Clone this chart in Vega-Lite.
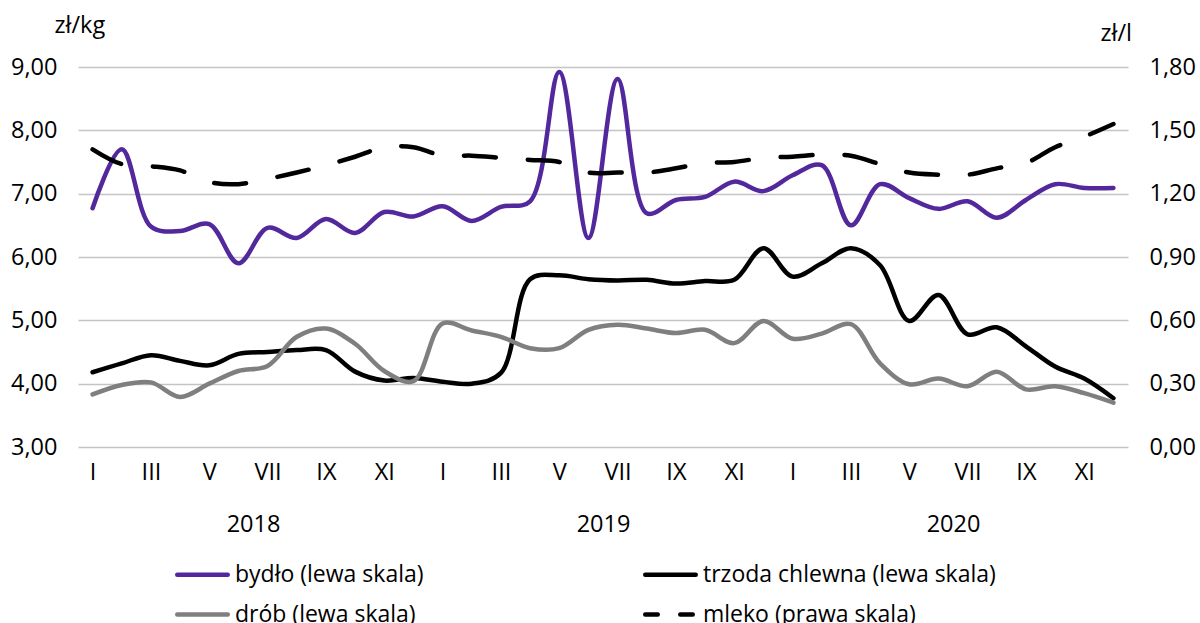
{
  "$schema": "https://vega.github.io/schema/vega-lite/v6.json",
  "width": 1050,
  "height": 380,
  "autosize": "none",
  "padding": {"left": 78, "top": 67, "right": 72, "bottom": 176},
  "background": "white",
  "config": {
    "font": "Open Sans",
    "view": {"stroke": null},
    "axis": {"labelFontSize": 23.5, "labelColor": "#000", "titleColor": "#000", "titleFontSize": 23.5, "titleFontWeight": "normal", "ticks": false, "domain": false},
    "legend": {"labelFontSize": 23, "labelColor": "#000"}
  },
  "datasets": {
    "meat": [
      {"ym": "2018-01", "series": "bydło (lewa skala)", "value": 6.77},
      {"ym": "2018-02", "series": "bydło (lewa skala)", "value": 7.70},
      {"ym": "2018-03", "series": "bydło (lewa skala)", "value": 6.48},
      {"ym": "2018-04", "series": "bydło (lewa skala)", "value": 6.41},
      {"ym": "2018-05", "series": "bydło (lewa skala)", "value": 6.52},
      {"ym": "2018-06", "series": "bydło (lewa skala)", "value": 5.90},
      {"ym": "2018-07", "series": "bydło (lewa skala)", "value": 6.46},
      {"ym": "2018-08", "series": "bydło (lewa skala)", "value": 6.30},
      {"ym": "2018-09", "series": "bydło (lewa skala)", "value": 6.60},
      {"ym": "2018-10", "series": "bydło (lewa skala)", "value": 6.38},
      {"ym": "2018-11", "series": "bydło (lewa skala)", "value": 6.71},
      {"ym": "2018-12", "series": "bydło (lewa skala)", "value": 6.64},
      {"ym": "2019-01", "series": "bydło (lewa skala)", "value": 6.80},
      {"ym": "2019-02", "series": "bydło (lewa skala)", "value": 6.57},
      {"ym": "2019-03", "series": "bydło (lewa skala)", "value": 6.79},
      {"ym": "2019-04", "series": "bydło (lewa skala)", "value": 6.88},
      {"ym": "2019-05", "series": "bydło (lewa skala)", "value": 8.92},
      {"ym": "2019-06", "series": "bydło (lewa skala)", "value": 6.30},
      {"ym": "2019-07", "series": "bydło (lewa skala)", "value": 8.81},
      {"ym": "2019-08", "series": "bydło (lewa skala)", "value": 6.69},
      {"ym": "2019-09", "series": "bydło (lewa skala)", "value": 6.90},
      {"ym": "2019-10", "series": "bydło (lewa skala)", "value": 6.95},
      {"ym": "2019-11", "series": "bydło (lewa skala)", "value": 7.19},
      {"ym": "2019-12", "series": "bydło (lewa skala)", "value": 7.04},
      {"ym": "2020-01", "series": "bydło (lewa skala)", "value": 7.29},
      {"ym": "2020-02", "series": "bydło (lewa skala)", "value": 7.45},
      {"ym": "2020-03", "series": "bydło (lewa skala)", "value": 6.50},
      {"ym": "2020-04", "series": "bydło (lewa skala)", "value": 7.15},
      {"ym": "2020-05", "series": "bydło (lewa skala)", "value": 6.93},
      {"ym": "2020-06", "series": "bydło (lewa skala)", "value": 6.76},
      {"ym": "2020-07", "series": "bydło (lewa skala)", "value": 6.88},
      {"ym": "2020-08", "series": "bydło (lewa skala)", "value": 6.62},
      {"ym": "2020-09", "series": "bydło (lewa skala)", "value": 6.90},
      {"ym": "2020-10", "series": "bydło (lewa skala)", "value": 7.15},
      {"ym": "2020-11", "series": "bydło (lewa skala)", "value": 7.09},
      {"ym": "2020-12", "series": "bydło (lewa skala)", "value": 7.09},
      {"ym": "2018-01", "series": "trzoda chlewna (lewa skala)", "value": 4.18},
      {"ym": "2018-02", "series": "trzoda chlewna (lewa skala)", "value": 4.32},
      {"ym": "2018-03", "series": "trzoda chlewna (lewa skala)", "value": 4.45},
      {"ym": "2018-04", "series": "trzoda chlewna (lewa skala)", "value": 4.36},
      {"ym": "2018-05", "series": "trzoda chlewna (lewa skala)", "value": 4.29},
      {"ym": "2018-06", "series": "trzoda chlewna (lewa skala)", "value": 4.47},
      {"ym": "2018-07", "series": "trzoda chlewna (lewa skala)", "value": 4.50},
      {"ym": "2018-08", "series": "trzoda chlewna (lewa skala)", "value": 4.53},
      {"ym": "2018-09", "series": "trzoda chlewna (lewa skala)", "value": 4.53},
      {"ym": "2018-10", "series": "trzoda chlewna (lewa skala)", "value": 4.19},
      {"ym": "2018-11", "series": "trzoda chlewna (lewa skala)", "value": 4.05},
      {"ym": "2018-12", "series": "trzoda chlewna (lewa skala)", "value": 4.09},
      {"ym": "2019-01", "series": "trzoda chlewna (lewa skala)", "value": 4.03},
      {"ym": "2019-02", "series": "trzoda chlewna (lewa skala)", "value": 4.00},
      {"ym": "2019-03", "series": "trzoda chlewna (lewa skala)", "value": 4.17},
      {"ym": "2019-04", "series": "trzoda chlewna (lewa skala)", "value": 5.65},
      {"ym": "2019-05", "series": "trzoda chlewna (lewa skala)", "value": 5.71},
      {"ym": "2019-06", "series": "trzoda chlewna (lewa skala)", "value": 5.65},
      {"ym": "2019-07", "series": "trzoda chlewna (lewa skala)", "value": 5.63},
      {"ym": "2019-08", "series": "trzoda chlewna (lewa skala)", "value": 5.64},
      {"ym": "2019-09", "series": "trzoda chlewna (lewa skala)", "value": 5.58},
      {"ym": "2019-10", "series": "trzoda chlewna (lewa skala)", "value": 5.62},
      {"ym": "2019-11", "series": "trzoda chlewna (lewa skala)", "value": 5.64},
      {"ym": "2019-12", "series": "trzoda chlewna (lewa skala)", "value": 6.14},
      {"ym": "2020-01", "series": "trzoda chlewna (lewa skala)", "value": 5.69},
      {"ym": "2020-02", "series": "trzoda chlewna (lewa skala)", "value": 5.90},
      {"ym": "2020-03", "series": "trzoda chlewna (lewa skala)", "value": 6.14},
      {"ym": "2020-04", "series": "trzoda chlewna (lewa skala)", "value": 5.87},
      {"ym": "2020-05", "series": "trzoda chlewna (lewa skala)", "value": 4.99},
      {"ym": "2020-06", "series": "trzoda chlewna (lewa skala)", "value": 5.40},
      {"ym": "2020-07", "series": "trzoda chlewna (lewa skala)", "value": 4.78},
      {"ym": "2020-08", "series": "trzoda chlewna (lewa skala)", "value": 4.89},
      {"ym": "2020-09", "series": "trzoda chlewna (lewa skala)", "value": 4.59},
      {"ym": "2020-10", "series": "trzoda chlewna (lewa skala)", "value": 4.27},
      {"ym": "2020-11", "series": "trzoda chlewna (lewa skala)", "value": 4.08},
      {"ym": "2020-12", "series": "trzoda chlewna (lewa skala)", "value": 3.77},
      {"ym": "2018-01", "series": "drób (lewa skala)", "value": 3.83},
      {"ym": "2018-02", "series": "drób (lewa skala)", "value": 3.98},
      {"ym": "2018-03", "series": "drób (lewa skala)", "value": 4.02},
      {"ym": "2018-04", "series": "drób (lewa skala)", "value": 3.79},
      {"ym": "2018-05", "series": "drób (lewa skala)", "value": 4.00},
      {"ym": "2018-06", "series": "drób (lewa skala)", "value": 4.20},
      {"ym": "2018-07", "series": "drób (lewa skala)", "value": 4.28},
      {"ym": "2018-08", "series": "drób (lewa skala)", "value": 4.74},
      {"ym": "2018-09", "series": "drób (lewa skala)", "value": 4.87},
      {"ym": "2018-10", "series": "drób (lewa skala)", "value": 4.63},
      {"ym": "2018-11", "series": "drób (lewa skala)", "value": 4.20},
      {"ym": "2018-12", "series": "drób (lewa skala)", "value": 4.04},
      {"ym": "2019-01", "series": "drób (lewa skala)", "value": 4.95},
      {"ym": "2019-02", "series": "drób (lewa skala)", "value": 4.84},
      {"ym": "2019-03", "series": "drób (lewa skala)", "value": 4.74},
      {"ym": "2019-04", "series": "drób (lewa skala)", "value": 4.56},
      {"ym": "2019-05", "series": "drób (lewa skala)", "value": 4.56},
      {"ym": "2019-06", "series": "drób (lewa skala)", "value": 4.85},
      {"ym": "2019-07", "series": "drób (lewa skala)", "value": 4.93},
      {"ym": "2019-08", "series": "drób (lewa skala)", "value": 4.87},
      {"ym": "2019-09", "series": "drób (lewa skala)", "value": 4.80},
      {"ym": "2019-10", "series": "drób (lewa skala)", "value": 4.85},
      {"ym": "2019-11", "series": "drób (lewa skala)", "value": 4.64},
      {"ym": "2019-12", "series": "drób (lewa skala)", "value": 4.99},
      {"ym": "2020-01", "series": "drób (lewa skala)", "value": 4.71},
      {"ym": "2020-02", "series": "drób (lewa skala)", "value": 4.79},
      {"ym": "2020-03", "series": "drób (lewa skala)", "value": 4.94},
      {"ym": "2020-04", "series": "drób (lewa skala)", "value": 4.32},
      {"ym": "2020-05", "series": "drób (lewa skala)", "value": 3.99},
      {"ym": "2020-06", "series": "drób (lewa skala)", "value": 4.08},
      {"ym": "2020-07", "series": "drób (lewa skala)", "value": 3.96},
      {"ym": "2020-08", "series": "drób (lewa skala)", "value": 4.19},
      {"ym": "2020-09", "series": "drób (lewa skala)", "value": 3.91},
      {"ym": "2020-10", "series": "drób (lewa skala)", "value": 3.96},
      {"ym": "2020-11", "series": "drób (lewa skala)", "value": 3.85},
      {"ym": "2020-12", "series": "drób (lewa skala)", "value": 3.70}
    ],
    "milk": [
      {"ym": "2018-01", "series": "mleko (prawa skala)", "value": 1.41},
      {"ym": "2018-02", "series": "mleko (prawa skala)", "value": 1.34},
      {"ym": "2018-03", "series": "mleko (prawa skala)", "value": 1.33},
      {"ym": "2018-04", "series": "mleko (prawa skala)", "value": 1.31},
      {"ym": "2018-05", "series": "mleko (prawa skala)", "value": 1.255},
      {"ym": "2018-06", "series": "mleko (prawa skala)", "value": 1.245},
      {"ym": "2018-07", "series": "mleko (prawa skala)", "value": 1.27},
      {"ym": "2018-08", "series": "mleko (prawa skala)", "value": 1.30},
      {"ym": "2018-09", "series": "mleko (prawa skala)", "value": 1.335},
      {"ym": "2018-10", "series": "mleko (prawa skala)", "value": 1.375},
      {"ym": "2018-11", "series": "mleko (prawa skala)", "value": 1.42},
      {"ym": "2018-12", "series": "mleko (prawa skala)", "value": 1.42},
      {"ym": "2019-01", "series": "mleko (prawa skala)", "value": 1.38},
      {"ym": "2019-02", "series": "mleko (prawa skala)", "value": 1.38},
      {"ym": "2019-03", "series": "mleko (prawa skala)", "value": 1.37},
      {"ym": "2019-04", "series": "mleko (prawa skala)", "value": 1.36},
      {"ym": "2019-05", "series": "mleko (prawa skala)", "value": 1.35},
      {"ym": "2019-06", "series": "mleko (prawa skala)", "value": 1.30},
      {"ym": "2019-07", "series": "mleko (prawa skala)", "value": 1.30},
      {"ym": "2019-08", "series": "mleko (prawa skala)", "value": 1.30},
      {"ym": "2019-09", "series": "mleko (prawa skala)", "value": 1.32},
      {"ym": "2019-10", "series": "mleko (prawa skala)", "value": 1.345},
      {"ym": "2019-11", "series": "mleko (prawa skala)", "value": 1.35},
      {"ym": "2019-12", "series": "mleko (prawa skala)", "value": 1.37},
      {"ym": "2020-01", "series": "mleko (prawa skala)", "value": 1.375},
      {"ym": "2020-02", "series": "mleko (prawa skala)", "value": 1.385},
      {"ym": "2020-03", "series": "mleko (prawa skala)", "value": 1.38},
      {"ym": "2020-04", "series": "mleko (prawa skala)", "value": 1.34},
      {"ym": "2020-05", "series": "mleko (prawa skala)", "value": 1.30},
      {"ym": "2020-06", "series": "mleko (prawa skala)", "value": 1.29},
      {"ym": "2020-07", "series": "mleko (prawa skala)", "value": 1.29},
      {"ym": "2020-08", "series": "mleko (prawa skala)", "value": 1.32},
      {"ym": "2020-09", "series": "mleko (prawa skala)", "value": 1.345},
      {"ym": "2020-10", "series": "mleko (prawa skala)", "value": 1.42},
      {"ym": "2020-11", "series": "mleko (prawa skala)", "value": 1.47},
      {"ym": "2020-12", "series": "mleko (prawa skala)", "value": 1.53}
    ],
    "years": [
      {"year": "2018"}, {"year": "2019"}, {"year": "2020"}
    ]
  },
  "layer": [
    {
      "data": {"name": "meat"},
      "mark": {"type": "line", "interpolate": "catmull-rom", "strokeWidth": 4.5, "strokeCap": "round", "strokeJoin": "round"},
      "encoding": {
        "x": {
          "field": "ym", "type": "ordinal", "sort": null,
          "axis": {
            "title": null, "labelAngle": 0, "labelPadding": 13, "grid": false,
            "values": ["2018-01","2018-03","2018-05","2018-07","2018-09","2018-11","2019-01","2019-03","2019-05","2019-07","2019-09","2019-11","2020-01","2020-03","2020-05","2020-07","2020-09","2020-11"],
            "labelExpr": "['I','II','III','IV','V','VI','VII','VIII','IX','X','XI','XII'][toNumber(slice(datum.value, 5, 7)) - 1]"
          }
        },
        "y": {
          "field": "value", "type": "quantitative",
          "scale": {"domain": [3, 9], "nice": false, "zero": false},
          "axis": {
            "orient": "left", "values": [3, 4, 5, 6, 7, 8, 9], "grid": true, "gridColor": "#c4c4c4", "gridWidth": 1.5,
            "labelPadding": 21,
            "labelExpr": "replace(format(datum.value, '.2f'), '.', ',')",
            "title": "zł/kg", "titleAngle": 0, "titleAlign": "left", "titleBaseline": "alphabetic", "titleX": -24, "titleY": -35
          }
        },
        "color": {
          "field": "series", "type": "nominal",
          "scale": {
            "domain": ["bydło (lewa skala)", "trzoda chlewna (lewa skala)", "drób (lewa skala)", "mleko (prawa skala)"],
            "range": ["#52289c", "#000000", "#7f7f7f", "#000000"]
          },
          "legend": {
            "title": null, "orient": "none", "direction": "horizontal", "legendX": 97, "legendY": 480, "columns": 2, "columnPadding": 212, "rowPadding": -30,
            "symbolType": "stroke", "symbolSize": 2550, "symbolStrokeWidth": 4.5, "labelOffset": 5, "labelLimit": 500,
            "encode": {
              "symbols": {
                "update": {
                  "strokeCap": {"value": "round"},
                  "strokeDash": {"signal": "datum.value === 'mleko (prawa skala)' ? [12.5, 22.5] : [1, 0]"}
                }
              }
            }
          }
        }
      }
    },
    {
      "data": {"name": "milk"},
      "mark": {"type": "line", "interpolate": "catmull-rom", "strokeWidth": 4.5, "strokeCap": "round", "strokeDash": [32, 32]},
      "encoding": {
        "x": {"field": "ym", "type": "ordinal", "sort": null, "axis": null},
        "y": {
          "field": "value", "type": "quantitative",
          "scale": {"domain": [0, 1.8], "nice": false},
          "axis": {
            "orient": "right", "values": [0, 0.3, 0.6, 0.9, 1.2, 1.5, 1.8], "grid": false,
            "labelPadding": 21,
            "labelExpr": "replace(format(datum.value, '.2f'), '.', ',')",
            "title": "zł/l", "titleAngle": 0, "titleAlign": "left", "titleBaseline": "alphabetic", "titleX": -28, "titleY": -27
          }
        },
        "color": {"field": "series", "type": "nominal"}
      }
    },
    {
      "data": {"name": "years"},
      "mark": {"type": "text", "text": ""},
      "encoding": {
        "x": {
          "field": "year", "type": "nominal", "sort": null,
          "axis": {"title": null, "orient": "bottom", "labelAngle": 0, "offset": 52, "labelPadding": 13, "grid": false}
        }
      }
    }
  ],
  "resolve": {"scale": {"x": "independent", "y": "independent"}}
}
